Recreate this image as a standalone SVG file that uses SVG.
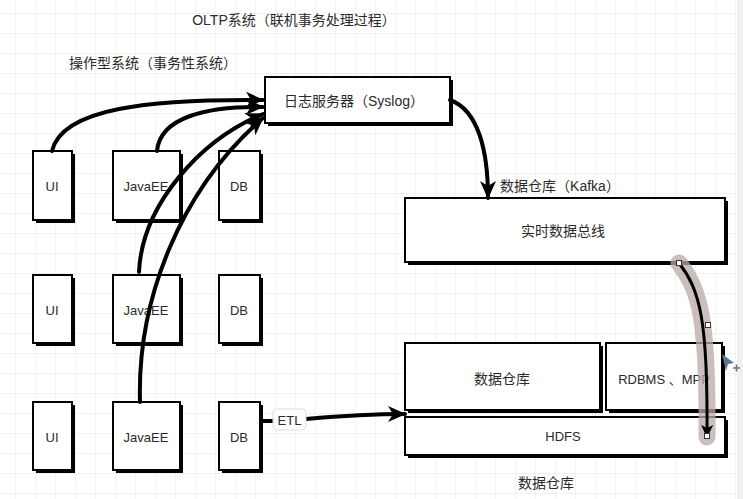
<svg xmlns="http://www.w3.org/2000/svg" width="743" height="499" viewBox="0 0 743 499">
<defs>
<pattern id="grid" width="20" height="20" patternUnits="userSpaceOnUse" x="15" y="13">
<path d="M20,0 L0,0 L0,20" fill="none" stroke="#e6e6e6" stroke-width="1"/>
</pattern>
<marker id="ah" markerUnits="userSpaceOnUse" markerWidth="20" markerHeight="20" refX="17" refY="10" orient="auto">
<path d="M0,2 L18,10 L0,18 L5,10 z" fill="#000"/>
</marker>
<marker id="ahs" markerUnits="userSpaceOnUse" markerWidth="14" markerHeight="14" refX="12" refY="7" orient="auto">
<path d="M0,1 L13,7 L0,13 L3,7 z" fill="#000"/>
</marker>
<style>
.sh{fill:#000}
.bx{fill:#fff;stroke:#000;stroke-width:2}
.t{font-family:"Liberation Sans","Noto Sans CJK SC",sans-serif;fill:#2a2a2a;text-anchor:middle;dominant-baseline:central}
.s14{font-size:14px}
.s13{font-size:13px}
.c{fill:none;stroke:#000;stroke-width:4;stroke-linecap:round}
</style>
</defs>
<rect width="743" height="499" fill="#fff"/>
<rect width="743" height="499" fill="url(#grid)"/>
<rect x="737" y="0" width="6" height="499" fill="#f0f0f0"/>

<text class="t s14" x="294" y="20">OLTP系统（联机事务处理过程）</text>
<text class="t s14" x="153" y="63">操作型系统（事务性系统）</text>
<text class="t s14" x="560" y="186">数据仓库（Kafka）</text>
<text class="t s14" x="546" y="483">数据仓库</text>

<g id="ui1"><rect class="sh" x="36" y="154" width="39" height="69"/><rect class="bx" x="33" y="151" width="39" height="69"/><text class="t s13" x="52" y="186">UI</text></g>
<g id="javaee1"><rect class="sh" x="116" y="154" width="67" height="69"/><rect class="bx" x="113" y="151" width="67" height="69"/><text class="t s13" x="146" y="186">JavaEE</text></g>
<g id="db1"><rect class="sh" x="222" y="154" width="41" height="69"/><rect class="bx" x="219" y="151" width="41" height="69"/><text class="t s13" x="239" y="186">DB</text></g>

<g id="ui2"><rect class="sh" x="36" y="278" width="39" height="68"/><rect class="bx" x="33" y="275" width="39" height="68"/><text class="t s13" x="52" y="310">UI</text></g>
<g id="javaee2"><rect class="sh" x="116" y="278" width="67" height="68"/><rect class="bx" x="113" y="275" width="67" height="68"/><text class="t s13" x="146" y="310">JavaEE</text></g>
<g id="db2"><rect class="sh" x="222" y="278" width="41" height="68"/><rect class="bx" x="219" y="275" width="41" height="68"/><text class="t s13" x="239" y="310">DB</text></g>

<g id="ui3"><rect class="sh" x="36" y="405" width="39" height="68"/><rect class="bx" x="33" y="402" width="39" height="68"/><text class="t s13" x="52" y="437">UI</text></g>
<g id="javaee3"><rect class="sh" x="116" y="405" width="67" height="68"/><rect class="bx" x="113" y="402" width="67" height="68"/><text class="t s13" x="146" y="437">JavaEE</text></g>
<g id="db3"><rect class="sh" x="222" y="405" width="41" height="68"/><rect class="bx" x="219" y="402" width="41" height="68"/><text class="t s13" x="239" y="437">DB</text></g>

<g id="syslog"><rect class="sh" x="268" y="80" width="185" height="46"/><rect class="bx" x="265" y="77" width="185" height="46"/><text class="t s14" x="354" y="101">日志服务器（Syslog）</text></g>

<g id="kafka"><rect class="sh" x="408" y="201" width="320" height="64"/><rect class="bx" x="405" y="198" width="320" height="64"/><text class="t s14" x="563" y="231">实时数据总线</text></g>

<g id="dw"><rect class="sh" x="408" y="346" width="195" height="67"/><rect class="bx" x="405" y="343" width="195" height="67"/><text class="t s14" x="502" y="379">数据仓库</text></g>
<g id="rdbms"><rect class="sh" x="609" y="346" width="116" height="67"/><rect class="bx" x="606" y="343" width="116" height="67"/><text class="t s13" x="664" y="379">RDBMS 、MPP</text></g>
<g id="hdfs"><rect class="sh" x="408" y="420" width="320" height="38"/><rect class="bx" x="405" y="417" width="320" height="38"/><text class="t s13" x="563" y="436">HDFS</text></g>

<g id="connectors">
<path class="c" d="M52,151 C62,108 150,99 263,100" marker-end="url(#ah)"/>
<path class="c" d="M157,151 C160,118 205,106 263,107" marker-end="url(#ah)"/>
<path class="c" d="M139,272 C142,205 200,140 263,114" marker-end="url(#ah)"/>
<path class="c" d="M140,402 C137,300 180,190 263,118" marker-end="url(#ah)"/>
<path class="c" d="M450,100 C478,110 488,150 488,198" marker-end="url(#ah)"/>
<path class="c" d="M262,421 L274,421"/>
<path class="c" d="M306,419 C340,416 370,414 405,414" marker-end="url(#ah)"/>
<g id="etl-label"><rect x="273" y="409" width="33" height="21" rx="4" fill="#fff" stroke="#ddd" stroke-width="1"/><text class="t s13" x="289.5" y="420">ETL</text></g>
<path d="M679,263 C700,290 708,320 707,437" fill="none" stroke="#b8aaa6" stroke-opacity="0.75" stroke-width="17" stroke-linecap="round"/>
<path d="M679,263 C700,290 708,320 707,437" fill="none" stroke="#000" stroke-width="3" marker-end="url(#ahs)"/>
<rect x="676.5" y="260.5" width="5" height="5" fill="#fff" stroke="#333" stroke-width="1"/>
<rect x="705.5" y="322.5" width="5" height="5" fill="#fff" stroke="#333" stroke-width="1"/>
<rect x="704.5" y="433.5" width="5" height="5" fill="#fff" stroke="#333" stroke-width="1"/>
</g>
<g id="cursor" fill="#5d7591">
<path d="M722,354 L734,363 L728,364 L726,371 z"/>
<path d="M733,368 h7 M736.5,364.5 v7" stroke="#5d7591" stroke-width="1.5"/>
</g>
</svg>
